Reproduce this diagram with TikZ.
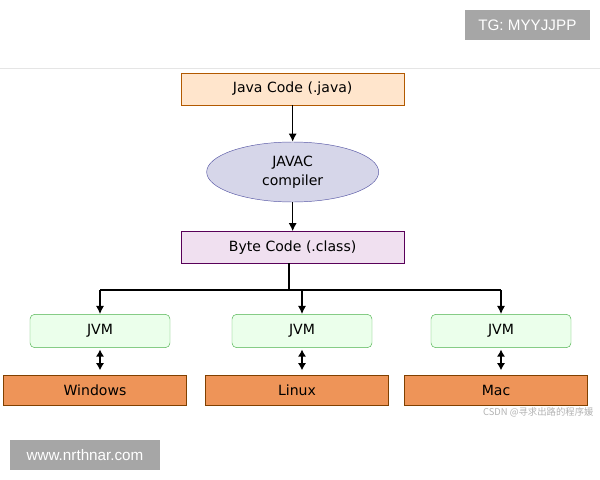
\documentclass[tikz,border=0pt]{standalone}
\usepackage{fontspec}
\setmainfont{DejaVu Sans}
\newfontfamily\tagfont{Liberation Sans}
\newfontfamily\cjk{Noto Sans CJK SC}
\usetikzlibrary{shapes.geometric,positioning,arrows.meta}
\definecolor{osorange}{RGB}{238,148,88}
\tikzset{
  box/.style={draw=#1!70!black,minimum height=0.95cm,font=\fontsize{12}{14}\selectfont,inner sep=0pt},
  srcbox/.style={box=orange,fill=orange!20,minimum width=6.7cm},
  bytebox/.style={box=violet,fill=violet!12,minimum width=6.7cm},
  jvmbox/.style={box=green,draw=green!40!gray,fill=green!8,rounded corners=4pt,minimum width=4.2cm,minimum height=1.0cm},
  osbox/.style={draw=orange!50!black,fill=osorange,minimum width=5.5cm,minimum height=0.9cm,font=\fontsize{12}{14}\selectfont},
  tag/.style={fill=black!35,text=white,font=\tagfont\fontsize{13}{15}\selectfont,inner sep=0pt},
  arr/.style={-{Latex[length=7pt,width=7pt]},very thick},
  darr/.style={{Latex[length=6pt,width=7pt]}-{Latex[length=6pt,width=7pt]},very thick}
}
\begin{document}
\begin{tikzpicture}
\useasboundingbox (0,0) rectangle (18,-14.4);
\draw[black!10] (0,-2.04) -- (18,-2.04);
\node[tag,minimum width=3.75cm,minimum height=0.9cm] (tg) at (15.82,-0.75) {TG: MYYJJPP};
\node[tag,minimum width=4.5cm,minimum height=0.9cm] (web) at (2.55,-13.65) {www.nrthnar.com};
% compile chain
\node[srcbox] (java) at (8.78,-2.67) {Java Code (.java)};
\node[ellipse,draw=blue!30!gray,fill=blue!30!gray!25,minimum width=5.16cm,minimum height=1.8cm,align=center,
  font=\fontsize{12}{16}\selectfont] (javac) at (8.78,-5.16) {JAVAC\\compiler};
\node[bytebox] (byte) at (8.78,-7.42) {Byte Code (.class)};
\draw[arr] (java) -- (javac);
\draw[arr] (javac) -- (byte);
% platforms
\coordinate (split) at (8.67,-8.7);
\foreach \n/\x/\os in {win/3.0/Windows,lin/9.06/Linux,mac/15.03/Mac}{
  \node[jvmbox] (jvm\n) at (\x,-9.93) {JVM};
  \node[osbox] (os\n) at (\x-0.15,-11.7) {\os};
  \draw[darr] (jvm\n.south) ++(0,-0.05) -- ++(0,-0.62);
  \draw[arr] (split-|jvm\n) -- (jvm\n.north);
}
\draw[very thick] (byte.south-|split) -- (split);
\draw[very thick] (split-|jvmwin) -- (split-|jvmmac);
\node[text=black!30,font=\cjk\fontsize{8}{9}\selectfont,anchor=north east,inner sep=1pt] (mark) at (17.85,-12.18) {CSDN @寻求出路的程序媛};
\end{tikzpicture}
\end{document}
